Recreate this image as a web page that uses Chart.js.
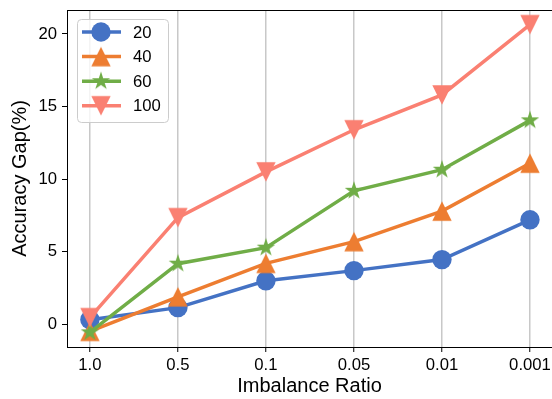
<!DOCTYPE html>
<html>
<head>
<meta charset="utf-8">
<script src="https://cdn.jsdelivr.net/npm/chart.js@4"></script>
<style>
  html, body { margin: 0; padding: 0; background: #fff; }
  canvas { display: block; }
</style>
</head>
<body>
<canvas id="canvas" width="552" height="399"></canvas>
<script>
// rapports de déséquilibre (axe x)
const ratioLabels = ["1.0", "0.5", "0.1", "0.05", "0.01", "0.001"];
const seriesNames = ["20", "40", "60", "100"];
// écart de précision (%)
const gap20 = [0.32, 1.15, 3.0, 3.7, 4.46, 7.2];
const gap40 = [-0.48, 1.9, 4.2, 5.7, 7.8, 11.1];
const gap60 = [-0.55, 4.18, 5.28, 9.2, 10.65, 14.05];
const gap100 = [0.46, 7.35, 10.5, 13.4, 15.8, 20.64];
const yTicks = [0, 5, 10, 15, 20];

const FONT = "'Liberation Sans', Arial, sans-serif";
const MS = 19.4; // taille des marqueurs en px

// marqueurs façon matplotlib, dessinés sur un petit canvas
function makeMarker(kind, color, size) {
    const c = document.createElement("canvas");
    const s = Math.ceil(size + 4);
    c.width = s; c.height = s;
    const g = c.getContext("2d");
    const m = s / 2, h = size / 2;
    g.beginPath();
    if (kind === "star") {
        const rIn = h * 0.381966;
        for (let i = 0; i < 10; i++) {
            const r = i % 2 === 0 ? h : rIn;
            const a = -Math.PI / 2 + i * Math.PI / 5;
            const px = m + r * Math.cos(a), py = m + r * Math.sin(a);
            if (i === 0) g.moveTo(px, py); else g.lineTo(px, py);
        }
    } else if (kind === "up") {
        g.moveTo(m, m - h);
        g.lineTo(m + h, m + h);
        g.lineTo(m - h, m + h);
    } else {
        g.moveTo(m, m + h);
        g.lineTo(m + h, m - h);
        g.lineTo(m - h, m - h);
    }
    g.closePath();
    g.fillStyle = color;
    g.fill();
    return c;
}

function toPoints(values) {
    return values.map((v, i) => ({x: i, y: v}));
}

function dataset(label, values, color, style, order) {
    return {
        label: label,
        data: toPoints(values),
        borderColor: color,
        backgroundColor: color,
        borderWidth: 3.5,
        pointStyle: style,
        pointRadius: MS / 2,
        pointBorderWidth: 0,
        pointBackgroundColor: color,
        pointBorderColor: color,
        order: order,
        tension: 0
    };
}

// légende dessinée dans la zone du graphe, en haut à gauche
const innerLegend = {
    id: "innerLegend",
    afterDraw(chart) {
        const ctx = chart.ctx;
        const a = chart.chartArea;
        const x0 = a.left + 10, y0 = a.top + 9, w = 91, h = 103;
        ctx.save();
        ctx.beginPath();
        ctx.roundRect(x0 + 0.5, y0 + 0.5, w, h, 4);
        ctx.fillStyle = "rgba(255,255,255,0.8)";
        ctx.fill();
        ctx.strokeStyle = "#cccccc";
        ctx.lineWidth = 1;
        ctx.stroke();
        chart.data.datasets.forEach((ds, i) => {
            const cy = y0 + 13 + i * 24.6;
            ctx.strokeStyle = ds.borderColor;
            ctx.lineWidth = ds.borderWidth;
            ctx.beginPath();
            ctx.moveTo(x0 + 5, cy);
            ctx.lineTo(x0 + 44, cy);
            ctx.stroke();
            ctx.fillStyle = ds.backgroundColor;
            Chart.helpers.drawPoint(ctx, {
                pointStyle: ds.pointStyle,
                rotation: 0,
                radius: ds.pointRadius,
                borderWidth: 0
            }, x0 + 24, cy);
            ctx.fillStyle = "#000";
            ctx.font = "16.7px " + FONT;
            ctx.textBaseline = "middle";
            ctx.textAlign = "left";
            ctx.fillText(ds.label, x0 + 56, cy + 1);
        });
        ctx.restore();
    }
};

// ligne du haut du cadre (le côté droit sort de l'image)
const frame = {
    id: "frame",
    afterDraw(chart) {
        const a = chart.chartArea;
        const ctx = chart.ctx;
        ctx.save();
        ctx.strokeStyle = "#000";
        ctx.lineWidth = 1;
        ctx.beginPath();
        ctx.moveTo(a.left, Math.round(a.top) + 0.5);
        ctx.lineTo(a.right + 2, Math.round(a.top) + 0.5);
        ctx.stroke();
        ctx.restore();
    }
};

const data = {
    datasets: [
        dataset(seriesNames[0], gap20, "#4472C4", "circle", 4),
        dataset(seriesNames[1], gap40, "#ED7D31", makeMarker("up", "#ED7D31", MS), 3),
        dataset(seriesNames[2], gap60, "#70AD47", makeMarker("star", "#70AD47", MS), 2),
        dataset(seriesNames[3], gap100, "#FA8072", makeMarker("down", "#FA8072", MS), 1)
    ]
};

const config = {
    type: "line",
    data: data,
    options: {
        responsive: false,
        devicePixelRatio: 1,
        animation: false,
        layout: { autoPadding: false, padding: { top: 10, right: 0, left: 0, bottom: 0 } },
        plugins: {
            legend: { display: false },
            tooltip: { enabled: false }
        },
        scales: {
            x: {
                type: "linear",
                min: -0.26,
                max: 5.25,
                afterBuildTicks: (s) => { s.ticks = ratioLabels.map((_, i) => ({value: i})); },
                afterFit: (s) => { s.height = 52; s.paddingLeft = 0; s.paddingRight = 0; },
                ticks: {
                    callback: (v) => ratioLabels[v],
                    color: "#000",
                    font: { family: FONT, size: 16.7 },
                    padding: 3,
                    maxRotation: 0,
                    autoSkip: false
                },
                grid: {
                    color: "#c8c8c8",
                    lineWidth: 1.5,
                    tickColor: "#000",
                    tickLength: 5,
                    tickWidth: 1
                },
                border: { color: "#000", width: 1 },
                title: {
                    display: true,
                    text: "Imbalance Ratio",
                    color: "#000",
                    font: { family: FONT, size: 20 },
                    padding: { top: 0, bottom: 1 }
                }
            },
            y: {
                min: -1.56,
                max: 21.65,
                afterBuildTicks: (s) => { s.ticks = yTicks.map(v => ({value: v})); },
                afterFit: (s) => { s.width = 67; s.paddingTop = 0; s.paddingBottom = 0; },
                ticks: {
                    color: "#000",
                    font: { family: FONT, size: 16.7 },
                    padding: 5
                },
                grid: {
                    drawOnChartArea: false,
                    tickColor: "#000",
                    tickLength: 5,
                    tickWidth: 1
                },
                border: { color: "#000", width: 1 },
                title: {
                    display: true,
                    text: "Accuracy Gap(%)",
                    color: "#000",
                    font: { family: FONT, size: 20 },
                    padding: { top: 8, bottom: 0 }
                }
            }
        }
    },
    plugins: [frame, innerLegend]
};

new Chart(document.getElementById("canvas"), config);
</script>
</body>
</html>
